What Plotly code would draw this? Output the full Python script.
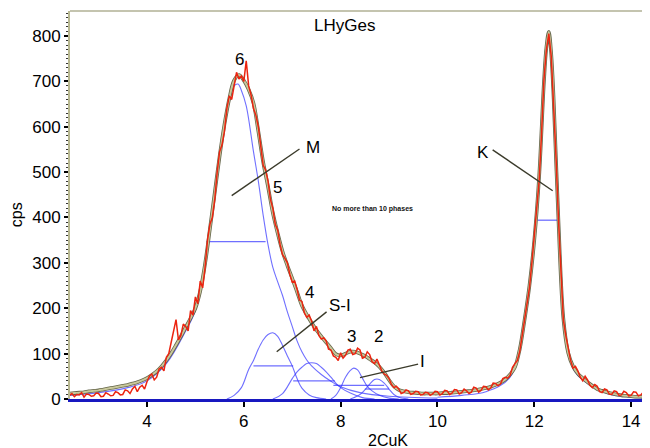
import plotly.graph_objects as go

# ---------------- data ----------------
# fitted total curve
fit_x = [2.4, 2.5, 2.6, 2.7, 2.8, 2.9, 3.0, 3.1, 3.2, 3.3, 3.4, 3.5, 3.6, 3.7, 3.8, 3.9,
         4.0, 4.1, 4.2, 4.3, 4.4, 4.5, 4.6, 4.7, 4.8, 4.9, 5.0, 5.1, 5.2, 5.3, 5.4, 5.5,
         5.6, 5.7, 5.8, 5.9, 6.0, 6.1, 6.2, 6.3, 6.4, 6.5, 6.6, 6.7, 6.8, 6.9, 7.0, 7.1,
         7.2, 7.3, 7.4, 7.5, 7.6, 7.7, 7.8, 7.9, 8.0, 8.1, 8.2, 8.3, 8.4, 8.5, 8.6, 8.7,
         8.8, 8.9, 9.0, 9.1, 9.2, 9.3, 9.4, 9.5, 9.6, 9.7, 9.8, 9.9, 10.0, 10.1, 10.2,
         10.3, 10.4, 10.5, 10.6, 10.7, 10.8, 10.9, 11.0, 11.1, 11.2, 11.3, 11.4, 11.5,
         11.6, 11.7, 11.8, 11.9, 12.0, 12.1, 12.2, 12.25, 12.3, 12.35, 12.4, 12.5, 12.6,
         12.7, 12.8, 12.9, 13.0, 13.1, 13.2, 13.3, 13.4, 13.5, 13.6, 13.7, 13.8, 13.9,
         14.0, 14.1, 14.2, 14.3, 14.4]
fit_y = [12, 13, 14, 15, 17, 18, 19, 21, 23, 25, 27, 29, 31, 34, 37, 41,
         46, 53, 61, 72, 85, 101, 119, 138, 158, 178, 200, 238, 298, 375, 455, 535,
         605, 662, 702, 714, 702, 682, 652, 590, 522, 468, 410, 365, 325, 294, 266, 236,
         206, 186, 168, 152, 138, 125, 112, 99, 96, 100, 104, 104, 100, 95, 88, 81,
         71, 58, 42, 28, 20, 17, 15, 14, 13, 12, 12, 12, 12, 13, 13,
         14, 15, 16, 17, 18, 20, 22, 24, 27, 31, 36, 43, 54,
         70, 110, 175, 250, 350, 490, 700, 775, 809, 760, 660, 390, 178,
         102, 72, 56, 46, 37, 29, 22, 18, 15, 12, 10, 8, 7,
         6, 5, 5, 4, 4]

# measured counts (2theta, cps)
meas_points = [
    (2.40, 8), (2.45, 12), (2.50, 5), (2.55, 10), (2.60, 9), (2.65, 14), (2.70, 4), (2.75, 11),
    (2.80, 10), (2.85, 6), (2.90, 7), (2.95, 13), (3.00, 12), (3.05, 5), (3.10, 6), (3.15, 14),
    (3.20, 11), (3.25, 7), (3.30, 8), (3.35, 16), (3.40, 14), (3.45, 9), (3.50, 10), (3.55, 20),
    (3.60, 18), (3.65, 12), (3.70, 22), (3.75, 28), (3.80, 16), (3.85, 26), (3.90, 30), (3.95, 22),
    (4.00, 38), (4.05, 50), (4.10, 55), (4.15, 42), (4.20, 48), (4.25, 66), (4.30, 70), (4.35, 62),
    (4.40, 92), (4.45, 100), (4.50, 125), (4.55, 150), (4.60, 175), (4.65, 130), (4.70, 140),
    (4.75, 165), (4.80, 160), (4.85, 150), (4.90, 195), (4.95, 185), (5.00, 225), (5.05, 210),
    (5.10, 260), (5.15, 245), (5.20, 290), (5.25, 350), (5.30, 385), (5.35, 400), (5.40, 440),
    (5.45, 500), (5.50, 545), (5.55, 560), (5.60, 590), (5.65, 640), (5.70, 668), (5.75, 660),
    (5.80, 690), (5.85, 720), (5.90, 705), (5.95, 712), (6.00, 700), (6.05, 745), (6.10, 690),
    (6.15, 670), (6.20, 640), (6.25, 625), (6.30, 600), (6.35, 550), (6.40, 515), (6.45, 505),
    (6.50, 480), (6.55, 440), (6.60, 420), (6.65, 385), (6.70, 372), (6.75, 340), (6.80, 318),
    (6.85, 310), (6.90, 300), (6.95, 275), (7.00, 258), (7.05, 260), (7.10, 242), (7.15, 218),
    (7.20, 215), (7.25, 190), (7.30, 180), (7.35, 185), (7.40, 172), (7.45, 150), (7.50, 160),
    (7.55, 140), (7.60, 132), (7.65, 135), (7.70, 128), (7.75, 110), (7.80, 108), (7.85, 95),
    (7.90, 92), (7.95, 85), (8.00, 102), (8.05, 90), (8.10, 96), (8.15, 108), (8.20, 110),
    (8.25, 98), (8.30, 100), (8.35, 112), (8.40, 108), (8.45, 90), (8.50, 92), (8.55, 104),
    (8.60, 98), (8.65, 82), (8.70, 78), (8.75, 88), (8.80, 75), (8.85, 62), (8.90, 55),
    (8.95, 52), (9.00, 45), (9.05, 32), (9.10, 25), (9.15, 28), (9.20, 22), (9.25, 12),
    (9.30, 14), (9.35, 20), (9.40, 18), (9.45, 10), (9.50, 12), (9.55, 17), (9.60, 16),
    (9.65, 9), (9.70, 10), (9.75, 15), (9.80, 14), (9.85, 8), (9.90, 11), (9.95, 17),
    (10.00, 16), (10.05, 9), (10.10, 12), (10.15, 19), (10.20, 18), (10.25, 10), (10.30, 13),
    (10.35, 21), (10.40, 20), (10.45, 11), (10.50, 14), (10.55, 22), (10.60, 18), (10.65, 12),
    (10.70, 15), (10.75, 26), (10.80, 24), (10.85, 15), (10.90, 19), (10.95, 28), (11.00, 27),
    (11.05, 20), (11.10, 24), (11.15, 35), (11.20, 34), (11.25, 29), (11.30, 33), (11.35, 45),
    (11.40, 48), (11.45, 46), (11.50, 52), (11.55, 70), (11.60, 78), (11.65, 85), (11.70, 105),
    (11.75, 140), (11.80, 180), (11.85, 205), (11.90, 245), (11.95, 300), (12.00, 355),
    (12.05, 420), (12.10, 480), (12.15, 585), (12.20, 705), (12.25, 770), (12.30, 805),
    (12.35, 755), (12.40, 655), (12.45, 530), (12.50, 395), (12.55, 265), (12.60, 175),
    (12.65, 140), (12.70, 108), (12.75, 85), (12.80, 68), (12.85, 72), (12.90, 62), (12.95, 48),
    (13.00, 40), (13.05, 50), (13.10, 42), (13.15, 30), (13.20, 25), (13.25, 32), (13.30, 28),
    (13.35, 16), (13.40, 14), (13.45, 22), (13.50, 20), (13.55, 11), (13.60, 10), (13.65, 18),
    (13.70, 16), (13.75, 8), (13.80, 9), (13.85, 17), (13.90, 14), (13.95, 7), (14.00, 8),
    (14.05, 16), (14.10, 15), (14.15, 7), (14.20, 9), (14.25, 15), (14.30, 13), (14.35, 8),
    (14.40, 10)]

# component peaks (blue)
c6_x = [2.4, 3.0, 3.6, 4.0, 4.4, 4.8, 5.0, 5.2, 5.4, 5.6, 5.7, 5.8, 5.88, 5.95, 6.05,
        6.2, 6.3, 6.4, 6.5, 6.6, 6.7, 6.8, 6.9, 7.0, 7.1, 7.2, 7.3, 7.4, 7.6, 7.8, 8.0,
        8.4, 9.0, 10.0]
c6_y = [8, 14, 25, 40, 78, 150, 195, 295, 455, 600, 655, 690, 694, 680, 646,
        545, 480, 405, 340, 290, 258, 228, 192, 160, 128, 104, 86, 73, 54, 39, 27,
        14, 6, 2]
c5_x = [5.65, 5.8, 5.95, 6.1, 6.2, 6.3, 6.4, 6.5, 6.6, 6.7, 6.8, 6.9, 7.0, 7.1, 7.2,
        7.35, 7.5, 7.7]
c5_y = [0, 8, 25, 65, 85, 110, 130, 142, 146, 138, 118, 95, 73, 45, 24, 9, 3, 0]
c4_x = [6.6, 6.8, 7.0, 7.1, 7.2, 7.3, 7.4, 7.5, 7.6, 7.7, 7.8, 7.9, 8.0, 8.2, 8.45, 8.7]
c4_y = [0, 12, 45, 60, 70, 78, 80, 78, 70, 60, 48, 35, 25, 13, 3, 0]
c3_x = [7.8, 7.9, 8.0, 8.1, 8.2, 8.27, 8.35, 8.45, 8.55, 8.65, 8.8, 9.0, 9.2]
c3_y = [0, 8, 25, 48, 63, 68, 64, 46, 28, 18, 8, 2, 0]
c2_x = [8.2, 8.4, 8.5, 8.6, 8.7, 8.75, 8.8, 8.9, 9.0, 9.1, 9.2, 9.4]
c2_y = [0, 10, 20, 33, 43, 44, 43, 35, 22, 10, 4, 0]
k_x = [10.0, 10.5, 11.0, 11.5, 11.8, 12.0, 12.1, 12.2, 12.3, 12.4, 12.5, 12.6, 12.8,
       13.0, 13.5, 14.0, 14.4]
k_y = [4, 8, 16, 48, 170, 345, 485, 695, 805, 655, 385, 175, 68, 42, 12, 4, 2]

# half-height (FWHM) bars of the components: (x_left, x_right, height)
fwhm_bars = [(5.23, 6.45, 347), (6.20, 7.02, 73), (7.02, 7.88, 40),
             (7.85, 8.90, 30), (8.50, 9.00, 22), (12.07, 12.48, 394)]

# labels: (text, x, y)
peak_labels = [("6", 5.92, 749), ("M", 7.43, 555), ("5", 6.69, 465), ("4", 7.35, 234),
               ("S-I", 7.99, 205), ("3", 8.23, 137), ("2", 8.79, 137), ("I", 9.70, 82),
               ("K", 10.94, 544)]
# leader lines: ((x0, y0), (x1, y1))
leaders = [((5.75, 448), (7.15, 551)), ((6.68, 104), (7.71, 192)),
           ((8.40, 47), (9.60, 77)), ((11.14, 549), (12.38, 459))]

x_ticks = [4, 6, 8, 10, 12, 14]
y_ticks = [0, 100, 200, 300, 400, 500, 600, 700, 800]

FONT = "Liberation Sans, Arial, Helvetica, sans-serif"
BLUE = "rgba(50,50,255,0.7)"

fig = go.Figure()

for cx, cy in [(c6_x, c6_y), (c5_x, c5_y), (c4_x, c4_y), (c3_x, c3_y), (c2_x, c2_y), (k_x, k_y)]:
    fig.add_trace(go.Scatter(x=cx, y=cy, mode="lines", line_shape="spline",
                             line=dict(color=BLUE, width=1.1),
                             hoverinfo="skip", showlegend=False))

for x0, x1, h in fwhm_bars:
    fig.add_trace(go.Scatter(x=[x0, x1], y=[h, h], mode="lines",
                             line=dict(color=BLUE, width=1.3),
                             hoverinfo="skip", showlegend=False))

# fit curve underneath: dark olive edges with a khaki core
fig.add_trace(go.Scatter(x=fit_x, y=fit_y, mode="lines", line_shape="spline",
                         line=dict(color="rgba(85,85,55,0.9)", width=3.6),
                         hoverinfo="skip", showlegend=False))
fig.add_trace(go.Scatter(x=fit_x, y=fit_y, mode="lines", line_shape="spline",
                         line=dict(color="rgb(200,200,155)", width=2.0),
                         showlegend=False))

meas_x = [p[0] for p in meas_points]
meas_y = [p[1] for p in meas_points]
fig.add_trace(go.Scatter(x=meas_x, y=meas_y, mode="lines",
                         line=dict(color="#ec2410", width=1.5),
                         showlegend=False))

for (x0, y0), (x1, y1) in leaders:
    fig.add_trace(go.Scatter(x=[x0, x1], y=[y0, y1], mode="lines",
                             line=dict(color="#3a3a2a", width=1.4),
                             hoverinfo="skip", showlegend=False))

for txt, lx, ly in peak_labels:
    fig.add_annotation(x=lx, y=ly, text=txt, showarrow=False,
                       font=dict(family=FONT, size=17, color="black"))

fig.add_annotation(x=8.09, y=822, text="LHyGes", showarrow=False,
                   font=dict(family=FONT, size=17, color="black"))
fig.add_annotation(x=8.65, y=419, text="<b>No more than 10 phases</b>", showarrow=False,
                   font=dict(family=FONT, size=7, color="#111111"))
# axis titles
fig.add_annotation(xref="paper", yref="paper", x=0.548, y=-0.106, text="2CuK",
                   xanchor="center", yanchor="middle",
                   showarrow=False, font=dict(family=FONT, size=16, color="black"))
fig.add_annotation(xref="paper", yref="paper", x=-0.093, y=0.474, text="cps",
                   xanchor="center", yanchor="middle",
                   textangle=-90, showarrow=False, font=dict(family=FONT, size=16, color="black"))

fig.add_shape(type="line", xref="paper", yref="paper", x0=0, x1=1, y0=1, y1=1,
              line=dict(color="#b0b095", width=1.5))

# the page adds an 8px body margin, so the margins are reduced by 8px on left/top
fig.update_layout(
    width=650, height=448,
    margin=dict(l=62, r=8, t=3, b=57),
    paper_bgcolor="white", plot_bgcolor="white",
    font=dict(family=FONT, size=17, color="black"),
    xaxis=dict(range=[2.41, 14.39], tickvals=x_ticks, showgrid=False, zeroline=False,
               automargin=False,
               showline=True, linecolor="#1818c0", linewidth=2.5,
               ticks="outside", ticklen=5, tickwidth=1.5, tickcolor="black",
               tickfont=dict(size=17)),
    yaxis=dict(range=[0, 855], tickvals=y_ticks, showgrid=False, zeroline=False,
               automargin=False,
               showline=True, linecolor="#b8b890", linewidth=2,
               ticks="outside", ticklen=4, tickwidth=1.5, tickcolor="black",
               minor=dict(dtick=10, ticks="outside", ticklen=2, tickcolor="#333333", tickwidth=1),
               tickfont=dict(size=17)),
)

fig.write_html("out.html")
